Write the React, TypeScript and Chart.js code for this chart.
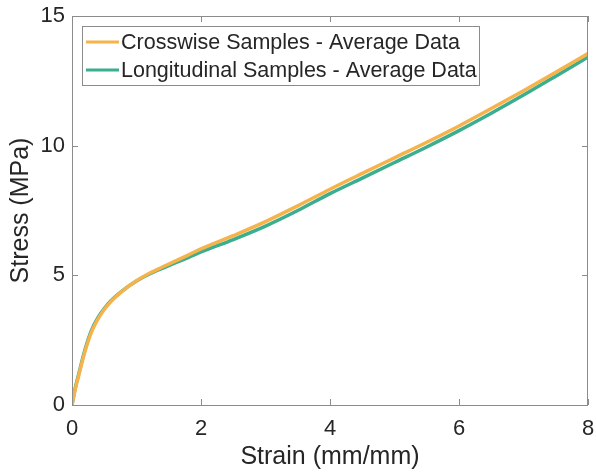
import React, { useEffect, useRef } from "react";
import { Chart, registerables } from "chart.js";

Chart.register(...registerables);

const strain = [0, 0.05, 0.1, 0.2, 0.3, 0.4, 0.5, 0.6, 0.8, 1.0, 1.2, 1.4, 1.6, 1.8, 2.0, 2.5, 3.0, 3.5, 4.0, 4.5, 5.0, 5.5, 6.0, 6.5, 7.0, 7.5, 8.0];
const crosswiseStress = [0, 0.6, 1.1, 2.05, 2.8, 3.3, 3.68, 3.98, 4.43, 4.79, 5.08, 5.32, 5.55, 5.78, 6.02, 6.53, 7.07, 7.68, 8.32, 8.93, 9.53, 10.13, 10.76, 11.43, 12.12, 12.83, 13.55];
const longitudinalStress = [0, 0.65, 1.15, 2.12, 2.87, 3.36, 3.72, 4.01, 4.44, 4.78, 5.05, 5.27, 5.48, 5.68, 5.9, 6.38, 6.9, 7.5, 8.15, 8.75, 9.35, 9.95, 10.58, 11.25, 11.95, 12.68, 13.42];
const seriesLabels = ["Crosswise Samples - Average Data", "Longitudinal Samples - Average Data"];
const xTicks = [0, 2, 4, 6, 8];
const yTicks = [0, 5, 10, 15];

const FONT = "'Liberation Sans', Arial, sans-serif";
const FRAME = "#8c8c8c";
const TEXT = "#262626";

const framePlugin = {
  id: "frame",
  afterDatasetsDraw(chart: any) {
    const { ctx, chartArea: a, scales } = chart;
    ctx.save();
    ctx.strokeStyle = FRAME;
    ctx.lineWidth = 1;
    ctx.strokeRect(a.left + 0.5, a.top + 0.5, a.right - a.left - 1, a.bottom - a.top);
    const tl = 6;
    ctx.beginPath();
    scales.x.ticks.forEach((t: any) => {
      const px = Math.round(scales.x.getPixelForValue(t.value)) + 0.5;
      ctx.moveTo(px, a.bottom);
      ctx.lineTo(px, a.bottom - tl);
      ctx.moveTo(px, a.top);
      ctx.lineTo(px, a.top + tl);
    });
    scales.y.ticks.forEach((t: any) => {
      const py = Math.round(scales.y.getPixelForValue(t.value)) + 0.5;
      ctx.moveTo(a.left, py);
      ctx.lineTo(a.left + tl, py);
      ctx.moveTo(a.right, py);
      ctx.lineTo(a.right - tl, py);
    });
    ctx.stroke();

    // legend
    const bx = 82, by = 26, bw = 397, bh = 59;
    ctx.fillStyle = "#ffffff";
    ctx.fillRect(bx, by, bw, bh);
    ctx.strokeStyle = FRAME;
    ctx.strokeRect(bx + 0.5, by + 0.5, bw, bh);
    ctx.font = `21.5px ${FONT}`;
    ctx.textBaseline = "middle";
    chart.data.datasets.forEach((ds: any, i: number) => {
      const y = by + 16 + i * 28;
      ctx.strokeStyle = ds.borderColor;
      ctx.lineWidth = 3;
      ctx.beginPath();
      ctx.moveTo(86, y);
      ctx.lineTo(119, y);
      ctx.stroke();
      ctx.fillStyle = TEXT;
      ctx.fillText(ds.label, 121, y + 1);
    });
    ctx.restore();
  },
};

export default function App() {
  const ref = useRef<HTMLCanvasElement>(null);
  useEffect(() => {
    if (!ref.current) return;
    const mk = (ys: number[]) => strain.map((x, i) => ({ x, y: ys[i] }));
    const chart = new Chart(ref.current, {
      type: "line",
      data: {
        datasets: [
          { label: seriesLabels[0], data: mk(crosswiseStress), borderColor: "#F6B34C", borderWidth: 3.5, pointRadius: 0, cubicInterpolationMode: "monotone" },
          { label: seriesLabels[1], data: mk(longitudinalStress), borderColor: "#3AAE8E", borderWidth: 3.5, pointRadius: 0, cubicInterpolationMode: "monotone" },
        ],
      },
      options: {
        animation: false,
        responsive: false,
        maintainAspectRatio: false,
        layout: { padding: { top: 16, right: 8, left: 0, bottom: 0 } },
        plugins: { legend: { display: false }, tooltip: { enabled: false } },
        scales: {
          x: {
            type: "linear",
            min: 0,
            max: 8,
            afterBuildTicks: (s: any) => { s.ticks = xTicks.map((v) => ({ value: v })); },
            afterFit: (s: any) => { s.height = 67; s.paddingLeft = 0; s.paddingRight = 0; },
            grid: { display: true, drawOnChartArea: false, drawTicks: false },
            border: { display: false },
            ticks: { color: TEXT, font: { family: FONT, size: 22 }, padding: 11, maxRotation: 0 },
            title: { display: true, text: "Strain (mm/mm)", color: TEXT, font: { family: FONT, size: 25 }, padding: { top: 2, bottom: 0 } },
          },
          y: {
            type: "linear",
            min: 0,
            max: 15,
            afterBuildTicks: (s: any) => { s.ticks = yTicks.map((v) => ({ value: v })); },
            afterFit: (s: any) => { s.width = 72; s.paddingTop = 0; s.paddingBottom = 0; },
            grid: { display: true, drawOnChartArea: false, drawTicks: false },
            border: { display: false },
            ticks: { color: TEXT, font: { family: FONT, size: 22 }, padding: 7 },
            title: { display: true, text: "Stress (MPa)", color: TEXT, font: { family: FONT, size: 25 }, padding: { top: 6, bottom: 4 } },
          },
        },
      },
      plugins: [framePlugin],
    } as any);
    return () => chart.destroy();
  }, []);
  return (
    <div style={{ position: "fixed", left: 0, top: 0, width: 596, height: 472, background: "#fff" }}>
      <canvas ref={ref} width={596} height={472} style={{ width: 596, height: 472 }} />
    </div>
  );
}
